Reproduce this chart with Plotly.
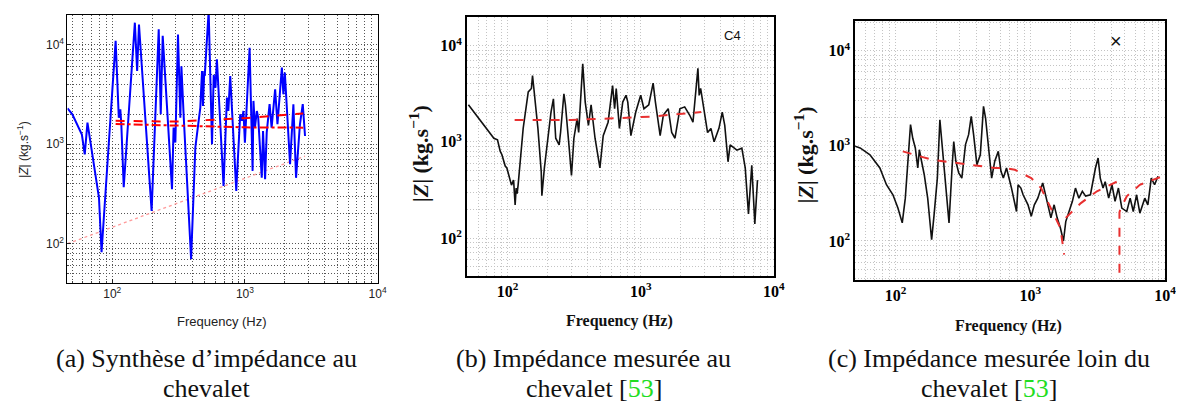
import plotly.graph_objects as go

# ---------------- data ----------------
# (a) synthesised impedance (blue)
fa = [46, 50, 59, 62, 65, 74.5, 79.4, 83, 86.5, 106, 112, 115, 117, 122, 148, 154, 159, 198, 224, 232, 240,
      282, 290, 299, 313, 326, 332, 346, 393, 423, 461, 475, 483, 494, 498, 533, 565, 582, 600, 615, 690, 732,
      750, 775, 861, 870, 922, 950, 975, 1000, 1085, 1143, 1160, 1190, 1230, 1260, 1340, 1370, 1420, 1460,
      1535, 1590, 1690, 1760, 1900, 1950, 2000, 2190, 2320, 2430, 2600, 2730, 2840]
za = [2300, 2000, 1250, 790, 1650, 500, 290, 82, 195, 11000, 1850, 2250, 1590, 370, 16700, 5460, 16000, 214,
      14300, 2000, 12300, 354, 1470, 1040, 12700, 1850, 6100, 1850, 70, 930, 2340, 5460, 2430, 5460, 4870,
      22000, 1000, 5000, 3700, 7150, 382, 2950, 2160, 4860, 340, 460, 2000, 1720, 2160, 1040, 9350, 540, 2730,
      1470, 2160, 1850, 460, 1360, 445, 1310, 2530, 1470, 3570, 1590, 5900, 3180, 5250, 630, 2530, 460, 1590,
      2530, 1210]
fa_dash = [106, 300, 1000, 2750]
za_dash = [1720, 1690, 1830, 2040]
fa_dashdot = [106, 400, 1000, 2750]
za_dashdot = [1600, 1530, 1480, 1470]
fa_dot = [46, 2840]
za_dot = [100, 760]

# (b) measured at the bridge
fb = [50.8, 56, 62, 66.7, 70, 75, 78.9, 84, 88, 90.7, 96, 98.8, 104, 107, 111, 114, 116, 118, 120, 131, 143,
      151, 154, 158, 169, 179, 181, 189, 200, 212, 221, 230, 244, 250, 265, 272, 289, 302, 315, 333, 342, 367,
      383, 405, 424, 454, 494, 523, 569, 615, 637, 655, 692, 733, 776, 800, 844, 918, 1000, 1058, 1150, 1240,
      1290, 1400, 1480, 1610, 1710, 1810, 1970, 2140, 2330, 2470, 2690, 2750, 2820, 3010, 3180, 3370, 3560,
      3870, 4100, 4280, 4530, 4700, 5280, 5750, 6100, 6450, 6830, 7200, 7540]
zb = [2430, 2040, 1700, 1480, 1350, 1200, 1090, 1050, 800, 735, 560, 535, 420, 355, 400, 221, 330, 290, 355,
      1380, 3300, 3590, 4900, 3400, 1380, 490, 276, 535, 1090, 2040, 2800, 1090, 930, 1250, 3160, 2430, 930,
      447, 1090, 1740, 1250, 6460, 2590, 1480, 2430, 1090, 535, 1160, 1600, 3850, 2210, 3590, 1380, 2590,
      3050, 2590, 1160, 2040, 3050, 2210, 2430, 4070, 2590, 1160, 1900, 2210, 1250, 1090, 2210, 2310, 1900,
      1600, 5800, 3050, 3590, 1900, 1250, 1380, 1000, 1380, 2040, 1480, 620, 930, 820, 860, 535, 178, 570,
      140, 400]
fb_dash = [113, 300, 650, 1200, 2850]
zb_dash = [1690, 1690, 1760, 1830, 2040]

# (c) measured far from the bridge
fc = [50, 54.5, 64.5, 76.4, 85.5, 95.5, 104, 112, 118, 129, 134, 140, 146, 150, 154, 163, 173, 185, 193, 204,
      213, 222, 235, 249, 263, 270, 280, 294, 310, 330, 348, 364, 379, 401, 425, 449, 465, 489, 516, 544, 578,
      605, 630, 665, 724, 789, 810, 850, 883, 960, 1015, 1070, 1135, 1235, 1300, 1420, 1500, 1580, 1670,
      1760, 1830, 1940, 2050, 2160, 2290, 2430, 2570, 2790, 3040, 3180, 3300, 3460, 3590, 3810, 4030, 4250,
      4500, 4770, 5190, 5500, 5800, 6140, 6490, 7060, 7440, 7890, 8350, 8850]
zc = [990, 950, 806, 585, 390, 306, 222, 155, 282, 1670, 1200, 950, 585, 910, 745, 500, 282, 103, 189, 458,
      1880, 950, 390, 155, 630, 1110, 688, 518, 458, 1030, 1310, 2040, 1310, 633, 806, 2600, 1960, 950, 458,
      690, 875, 540, 458, 585, 360, 204, 390, 360, 306, 240, 182, 240, 282, 408, 306, 175, 240, 175, 137, 100,
      160, 204, 261, 360, 282, 333, 296, 306, 585, 745, 458, 360, 420, 282, 390, 261, 360, 222, 204, 282, 204,
      306, 196, 282, 240, 458, 390, 480]
fc_dash = [113, 186, 547, 645, 767, 1015, 1200, 1420, 1670, 1780, None, 1830, 2370, 3120, 4430, None,
           4580, 4580, 4650, 5190, 6490, 9600, 10000]
zc_dash = [875, 714, 585, 585, 560, 458, 360, 222, 137, 72, None, 175, 250, 333, 423, None,
           30, 200, 215, 295, 390, 480, 520]

major_ticks = [100, 1000, 10000]
major_labels = ["10<sup>2</sup>", "10<sup>3</sup>", "10<sup>4</sup>"]
captions = [
    ("(a) Synthèse d’impédance au", "chevalet"),
    ("(b) Impédance mesurée au", "chevalet [<span style='color:#22dd22'>53</span>]"),
    ("(c) Impédance mesurée loin du", "chevalet [<span style='color:#22dd22'>53</span>]"),
]

# ---------------- figure ----------------
W, H = 1184, 408
fig = go.Figure()

fig.add_trace(go.Scatter(x=fa_dot, y=za_dot, mode="lines", line=dict(color="#ff9a9a", width=1.3, dash="dot"),
                         xaxis="x", yaxis="y", showlegend=False))
fig.add_trace(go.Scatter(x=fa, y=za, mode="lines", line=dict(color="#0000ff", width=2),
                         xaxis="x", yaxis="y", showlegend=False))
fig.add_trace(go.Scatter(x=fa_dash, y=za_dash, mode="lines", line=dict(color="#ff0000", width=2, dash="dash"),
                         xaxis="x", yaxis="y", showlegend=False))
fig.add_trace(go.Scatter(x=fa_dashdot, y=za_dashdot, mode="lines",
                         line=dict(color="#ff0000", width=2, dash="dashdot"),
                         xaxis="x", yaxis="y", showlegend=False))

fig.add_trace(go.Scatter(x=fb, y=zb, mode="lines", line=dict(color="#111111", width=1.6),
                         xaxis="x2", yaxis="y2", showlegend=False))
fig.add_trace(go.Scatter(x=fb_dash, y=zb_dash, mode="lines", line=dict(color="#e83030", width=2, dash="dash"),
                         xaxis="x2", yaxis="y2", showlegend=False))

fig.add_trace(go.Scatter(x=fc, y=zc, mode="lines", line=dict(color="#111111", width=1.6),
                         xaxis="x3", yaxis="y3", showlegend=False))
fig.add_trace(go.Scatter(x=fc_dash, y=zc_dash, mode="lines", connectgaps=False,
                         line=dict(color="#e83030", width=2, dash="dash"),
                         xaxis="x3", yaxis="y3", showlegend=False))

minor_vals = [m * 10 ** e for e in range(1, 5) for m in range(2, 10)]


def axis(domain, rng, anchor, gridcolor, font, linewidth, ticks, griddash):
    return dict(domain=domain, type="log", range=rng, anchor=anchor, tickmode="array",
                tickvals=major_ticks, ticktext=major_labels, showline=True, mirror=True,
                linecolor="black", linewidth=linewidth, showgrid=True, gridcolor=gridcolor,
                griddash=griddash, gridwidth=1, ticks=ticks, ticklen=4, tickcolor="#222",
                tickfont=font, zeroline=False,
                minor=dict(tickmode="array", tickvals=minor_vals, showgrid=True, gridcolor=gridcolor,
                           griddash=griddash, gridwidth=1, ticks=ticks, ticklen=2, tickcolor="#444"))


fa_font = dict(family="Liberation Sans, Arial", size=12, color="#222")
fb_font = dict(family="Liberation Serif, Times New Roman", size=16, color="#000", weight="bold")


def px_x(p):
    return p / W


def px_y(p):
    return 1 - p / H


fig.update_layout(
    width=W, height=H, margin=dict(l=0, r=0, t=0, b=0),
    paper_bgcolor="white", plot_bgcolor="white",
    xaxis=axis([px_x(60), px_x(373)], [1.662, 4.0], "y", "#555", fa_font, 1, "inside", "1px,2px"),
    yaxis=axis([px_y(275), px_y(7)], [1.605, 4.3], "x", "#555", fa_font, 1, "inside", "1px,2px"),
    xaxis2=axis([px_x(463), px_x(773)], [1.693, 4.0], "y2", "#c4c4c4", fb_font, 1.5, "", "1px,2px"),
    yaxis2=axis([px_y(268), px_y(9)], [1.605, 4.298], "x2", "#c4c4c4", fb_font, 1.5, "", "1px,2px"),
    xaxis3=axis([px_x(855), px_x(1168)], [1.699, 4.0], "y3", "#c4c4c4", fb_font, 1.5, "", "1px,2px"),
    yaxis3=axis([px_y(272), px_y(13)], [1.59, 4.312], "x3", "#c4c4c4", fb_font, 1.5, "", "1px,2px"),
)

ann = []
# axis titles
ann.append(dict(x=px_x(216), y=px_y(313), text="Frequency (Hz)",
                font=dict(family="Liberation Sans, Arial", size=13, color="#222")))
ann.append(dict(x=px_x(15), y=px_y(141), text="|<i>Z</i>| (kg.s<sup>−1</sup>)", textangle=-90,
                font=dict(family="Liberation Sans, Arial", size=12, color="#222")))
for cx, cy, tx, ty in [(617, 313, 415, 146), (1010, 318, 803, 147)]:
    ann.append(dict(x=px_x(cx), y=px_y(cy), text="<b>Frequency (Hz)</b>",
                    font=dict(family="Liberation Serif, Times New Roman", size=16, color="#111")))
    ann.append(dict(x=px_x(tx), y=px_y(ty), text="<b>|<i>Z</i>| (kg.s<sup>−1</sup>)</b>", textangle=-90,
                    font=dict(family="Liberation Serif, Times New Roman", size=22, color="#111")))
# inner labels
ann.append(dict(x=px_x(731), y=px_y(28), text="C4",
                font=dict(family="Liberation Sans, Arial", size=13, color="#111")))
ann.append(dict(x=px_x(1118), y=px_y(33), text="×",
                font=dict(family="Liberation Sans, Arial", size=20, color="#111")))
# captions
for (l1, l2), cx in zip(captions, [200, 591, 990]):
    ann.append(dict(x=px_x(cx), y=px_y(350), text=l1,
                    font=dict(family="Liberation Serif, Times New Roman", size=26, color="#111")))
    ann.append(dict(x=px_x(cx), y=px_y(380), text=l2,
                    font=dict(family="Liberation Serif, Times New Roman", size=26, color="#111")))

for a in ann:
    a.update(xref="paper", yref="paper", showarrow=False, xanchor="center", yanchor="middle")
fig.update_layout(annotations=ann)

fig.write_html("out.html")
